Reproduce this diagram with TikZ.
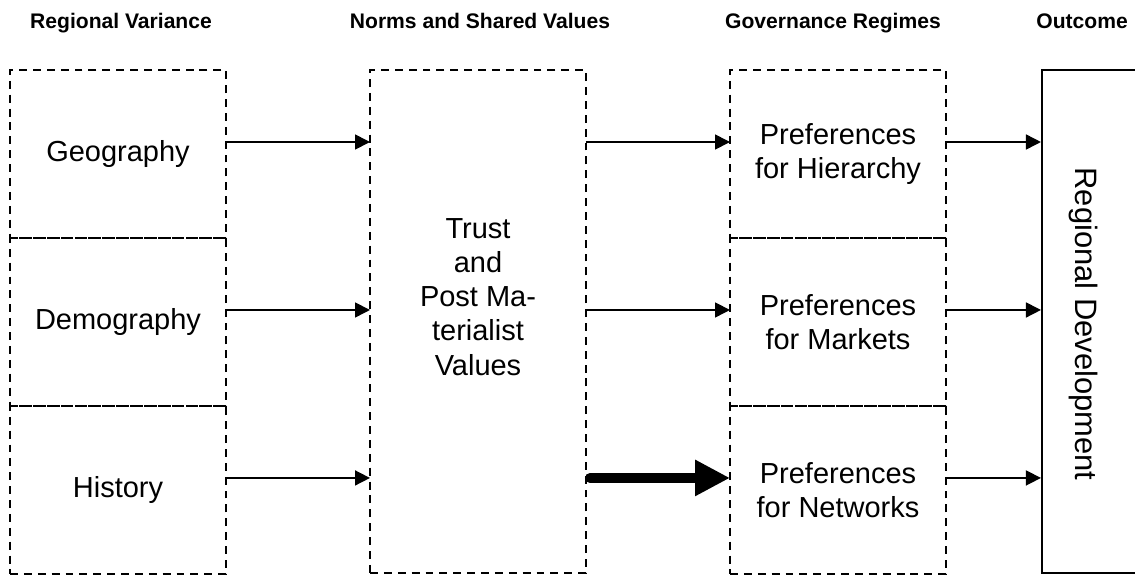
\documentclass[tikz,border=0pt]{standalone}
\usepackage{fontspec}
\setmainfont{Liberation Sans}
\usetikzlibrary{arrows.meta,calc,positioning}

\begin{document}
\begin{tikzpicture}[x=0.02cm,y=-0.02cm,
    dbox/.style={draw, rectangle, dash pattern=on 4.5pt off 3.4pt, line width=0.9pt,
      minimum width=4.32cm, minimum height=3.36cm, inner sep=0pt, outer sep=0pt,
      align=center, font=\fontsize{16.5}{19.4}\selectfont},
    hdr/.style={anchor=base, font=\fontsize{12}{14}\selectfont\bfseries},
    txt/.style={align=center, font=\fontsize{16.5}{19.4}\selectfont},
    arr/.style={-{Triangle[length=0.3cm,width=0.3cm]}, line width=0.9pt},
    bigarr/.style={-{Triangle[length=0.7cm,width=0.68cm]}, line width=0.2cm, line cap=round}]

    \useasboundingbox (0,0) rectangle (1135,576);
    \clip (0,0) rectangle (1135,576);

    \node[hdr] (hvar) at (121,28) {Regional Variance};
    \node[hdr] (hnorm) at (480,28) {Norms and Shared Values};
    \node[hdr] (hgov) at (833,28) {Governance Regimes};
    \node[hdr, anchor=base east] (hout) at (1134,28) {Outcome};

    \node[dbox] (geo) at (118,154) {Geography};
    \node[dbox, below=0pt of geo] (demo) {Demography};
    \node[dbox, below=0pt of demo] (hist) {History};

    \node[dbox, minimum height=10.06cm] (trust) at (478,321.5) {};
    \node[txt] (trustlbl) at (478,297) {Trust \\ and \\ Post Ma- \\ terialist \\ Values};

    \node[dbox] (hier) at (838,154) {Preferences \\ for Hierarchy};
    \node[dbox, below=0pt of hier] (mark) {Preferences \\ for Markets};
    \node[dbox, below=0pt of mark] (netw) {Preferences \\ for Networks};

    \node[draw, line width=1.2pt, minimum width=2.2cm, minimum height=10.06cm] (dev) at (1097,321.5) {};
    \node[txt, rotate=-90, font=\fontsize{17.6}{20}\selectfont] (devlbl) at (1083,324) {Regional Development};

    \foreach \src/\dst in {geo/trust, demo/trust, hist/trust, hier/dev, mark/dev, netw/dev}
      \draw[arr] ($(\src.east)+(0,-12)$) -- ($(\src.east -| \dst.west)+(0,-12)$);
    \foreach \dst in {hier, mark}
      \draw[arr] ($(\dst.west -| trust.east)+(0,-12)$) -- ($(\dst.west)+(0,-12)$);
    \draw[bigarr] ($(netw.west -| trust.east)+(4,-12)$) -- ($(netw.west)+(0,-12)$);
\end{tikzpicture}
\end{document}
